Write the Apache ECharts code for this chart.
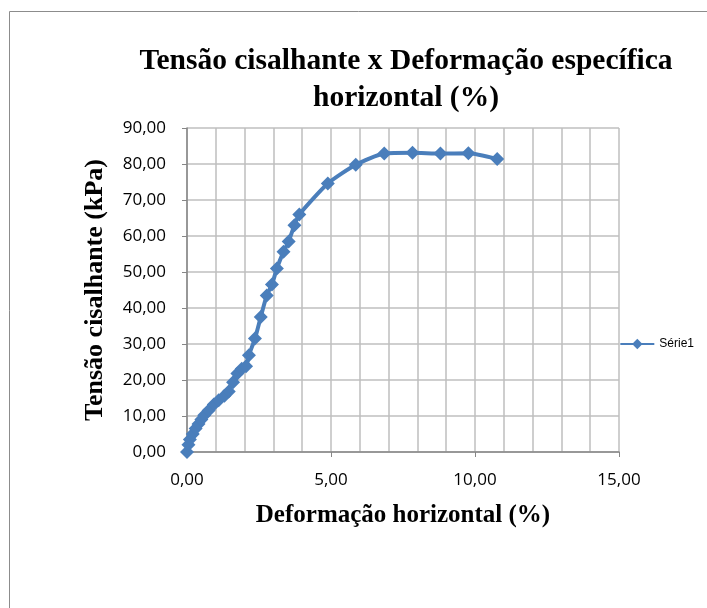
<!DOCTYPE html>
<html><head><meta charset="utf-8">
<script src="https://cdn.jsdelivr.net/npm/echarts@6/dist/echarts.min.js"></script>
<style>html,body{margin:0;padding:0;background:#fff}#c{width:707px;height:608px}</style>
</head><body><div id="c"></div>
<script>
const xValues = [0, 0.05, 0.1, 0.2, 0.3, 0.4, 0.5, 0.6, 0.75, 0.93, 1.1, 1.3, 1.45, 1.6, 1.75, 1.9, 2.05, 2.15, 2.36, 2.56, 2.77, 2.95, 3.12, 3.35, 3.53, 3.73, 3.9, 4.89, 5.86, 6.85, 7.83, 8.8, 9.77, 10.77];
const yValues = [0, 2.0, 3.5, 5.0, 6.5, 7.8, 9.0, 10.2, 11.5, 13.2, 14.4, 15.6, 16.8, 19.4, 21.8, 23.1, 23.8, 26.9, 31.5, 37.5, 43.5, 46.5, 51.0, 55.6, 58.5, 63.0, 66.0, 74.6, 79.8, 82.9, 83.1, 82.9, 83.0, 81.4];
const seriesName = 'Série1';
const titleText = 'Tensão cisalhante x Deformação específica\nhorizontal (%)';
const xTitle = 'Deformação horizontal (%)';
const yTitle = 'Tensão cisalhante (kPa)';

const fmt = v => v.toFixed(2).replace('.', ',');
const chart = echarts.init(document.getElementById('c'), null, {renderer: 'canvas'});
chart.setOption({
  animation: false,
  graphic: [{type: 'rect', shape: {x: 9.5, y: 11.5, width: 720, height: 620}, style: {fill: 'none', stroke: '#8c8c8c', lineWidth: 1}}],
  title: {
    text: titleText, left: 401, top: 38, textAlign: 'center',
    textStyle: {fontFamily: 'Liberation Serif', fontWeight: 'bold', fontSize: 29.5, lineHeight: 37, color: '#000'}
  },
  legend: {
    data: [seriesName], right: 8, top: 333, itemWidth: 34, itemHeight: 13,
    textStyle: {fontFamily: 'Liberation Sans', fontSize: 12, color: '#000'}, itemGap: 2
  },
  grid: {left: 187, top: 128, width: 432, height: 324, containLabel: false},
  xAxis: {
    type: 'value', min: 0, max: 15, interval: 5,
    name: xTitle, nameLocation: 'middle', nameGap: 51,
    nameTextStyle: {fontFamily: 'Liberation Serif', fontWeight: 'bold', fontSize: 25, color: '#000'},
    axisLine: {show: true, lineStyle: {color: '#868686', width: 1.5}},
    axisTick: {show: true, length: 5, lineStyle: {color: '#868686'}},
    axisLabel: {formatter: fmt, fontFamily: 'Open Sans', fontSize: 17, color: '#000', margin: 20},
    splitLine: {show: true, lineStyle: {color: '#bfbfbf', width: 1.5}},
    minorTick: {show: false, splitNumber: 5},
    minorSplitLine: {show: true, lineStyle: {color: '#bfbfbf', width: 1.5}}
  },
  yAxis: {
    type: 'value', min: 0, max: 90, interval: 10,
    name: yTitle, nameLocation: 'middle', nameGap: 79, nameRotate: 90,
    nameTextStyle: {fontFamily: 'Liberation Serif', fontWeight: 'bold', fontSize: 26, color: '#000'},
    axisLine: {show: true, lineStyle: {color: '#868686', width: 1.5}},
    axisTick: {show: true, length: 5, lineStyle: {color: '#868686'}},
    axisLabel: {formatter: fmt, fontFamily: 'Open Sans', fontSize: 17, color: '#000', margin: 21},
    splitLine: {show: true, lineStyle: {color: '#bfbfbf', width: 1.5}}
  },
  series: [{
    name: seriesName, type: 'line', smooth: 0.2,
    data: xValues.map((x, i) => [x, yValues[i]]),
    symbol: 'diamond', symbolSize: 14,
    lineStyle: {color: '#4a7ebb', width: 4},
    itemStyle: {color: '#4a7ebb'}
  }]
});
</script></body></html>
